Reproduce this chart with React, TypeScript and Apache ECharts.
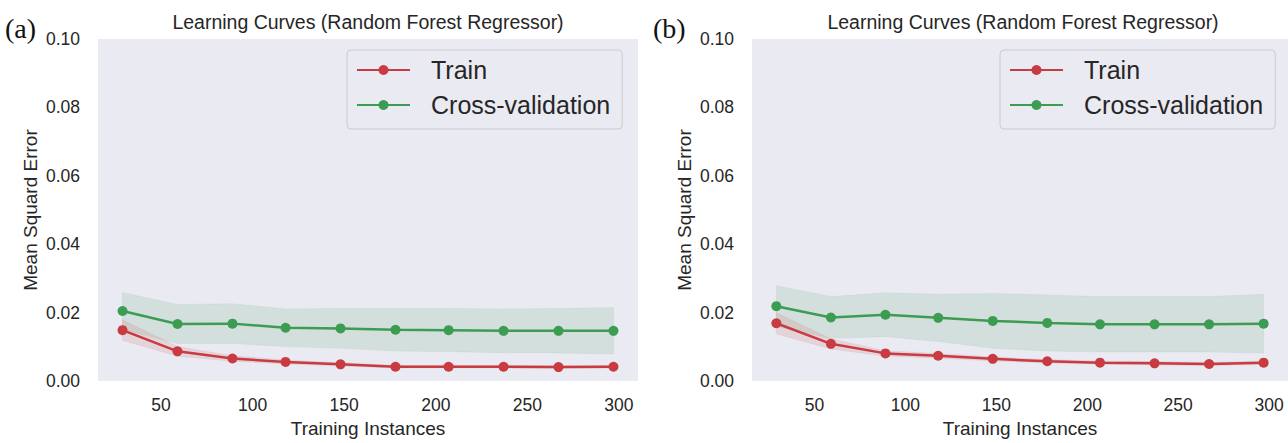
import React, { useEffect, useRef } from "react";
import * as echarts from "echarts";

// ---- data ----
const trainSizes = [29, 59, 89, 118, 148, 178, 207, 237, 267, 297];
const xTicks = [50, 100, 150, 200, 250, 300];
const yTicks = [0, 0.02, 0.04, 0.06, 0.08, 0.1];

// panel (a)
const trainMeanA = [0.0149, 0.0087, 0.0066, 0.0056, 0.0049, 0.0042, 0.0042, 0.0042, 0.0041, 0.0042];
const trainStdA = [0.003, 0.0014, 0.0008, 0.0006, 0.0005, 0.0004, 0.0004, 0.0004, 0.0004, 0.0004];
const cvMeanA = [0.0205, 0.0167, 0.0168, 0.0156, 0.0154, 0.015, 0.0149, 0.0147, 0.0147, 0.0147];
const cvStdA = [0.0054, 0.0057, 0.0058, 0.0055, 0.0058, 0.0062, 0.0063, 0.0064, 0.0065, 0.0068];

// panel (b)
const trainMeanB = [0.0169, 0.0109, 0.0081, 0.0074, 0.0065, 0.0058, 0.0054, 0.0052, 0.005, 0.0054];
const trainStdB = [0.0031, 0.0015, 0.0008, 0.0007, 0.0006, 0.0005, 0.0005, 0.0005, 0.0005, 0.0005];
const cvMeanB = [0.0219, 0.0186, 0.0194, 0.0185, 0.0176, 0.017, 0.0166, 0.0166, 0.0166, 0.0168];
const cvStdB = [0.006, 0.0061, 0.0064, 0.0069, 0.008, 0.0082, 0.0081, 0.0081, 0.0081, 0.0086];

const panelLabels = ["(a)", "(b)"];
const titleText = "Learning Curves (Random Forest Regressor)";
const xName = "Training Instances";
const yName = "Mean Squard Error";
const legendNames = ["Train", "Cross-validation"];

// ---- styles ----
const FONT = '"Liberation Sans", Arial, sans-serif';
const TXT = "#262626";
const RED = "#c83b40";
const GREEN = "#3c9c52";
const BG = "#EAEAF2";

const grids = [
  { left: 98, top: 39, width: 540, height: 349 },
  { left: 752, top: 39, width: 542, height: 349 },
];

function bandSeries(gi: number, mean: number[], std: number[], color: string) {
  const lower = mean.map((m, i) => m - std[i]);
  const upper = mean.map((m, i) => m + std[i]);
  return {
    type: "custom",
    xAxisIndex: gi,
    yAxisIndex: gi,
    silent: true,
    data: trainSizes.map((x, i) => [x, lower[i], upper[i]]),
    encode: { x: 0, y: [1, 2] },
    renderItem: (params: any, api: any) => {
      if (params.dataIndex !== 0) return null;
      const pts: number[][] = [];
      for (let i = 0; i < trainSizes.length; i++) pts.push(api.coord([trainSizes[i], upper[i]]));
      for (let i = trainSizes.length - 1; i >= 0; i--) pts.push(api.coord([trainSizes[i], lower[i]]));
      return {
        type: "polygon",
        shape: { points: pts },
        style: { fill: color, opacity: 0.13, stroke: color, lineWidth: 1, strokeOpacity: 0.5 },
      };
    },
  };
}

function lineSeries(gi: number, name: string, mean: number[], color: string) {
  return {
    type: "line",
    name,
    xAxisIndex: gi,
    yAxisIndex: gi,
    data: trainSizes.map((x, i) => [x, mean[i]]),
    symbol: "circle",
    symbolSize: 10,
    showSymbol: true,
    color,
    lineStyle: { width: 2.5, color },
    itemStyle: { color },
    emphasis: { disabled: true },
    z: 3,
  };
}

export default function App() {
  const ref = useRef<HTMLDivElement>(null);
  useEffect(() => {
    document.body.style.margin = "0";
    if (!ref.current) return;
    const chart = echarts.init(ref.current, undefined, { renderer: "svg" });
    const panels = [
      { tm: trainMeanA, ts: trainStdA, cm: cvMeanA, cs: cvStdA },
      { tm: trainMeanB, ts: trainStdB, cm: cvMeanB, cs: cvStdB },
    ];
    const series: any[] = [];
    panels.forEach((p, gi) => {
      series.push(bandSeries(gi, p.cm, p.cs, GREEN));
      series.push(bandSeries(gi, p.tm, p.ts, RED));
      series.push(lineSeries(gi, legendNames[1], p.cm, GREEN));
      series.push(lineSeries(gi, legendNames[0], p.tm, RED));
    });

    const xAxes = grids.map((_, gi) => ({
      type: "value",
      gridIndex: gi,
      min: 15.6,
      max: 310.4,
      splitNumber: 5,
      axisLine: { show: false },
      axisTick: { show: false },
      splitLine: { show: false },
      axisLabel: {
        fontSize: 17.5,
        fontFamily: FONT,
        color: TXT,
        margin: 15,
        showMinLabel: false,
        showMaxLabel: false,
        formatter: (v: number) => (xTicks.indexOf(Math.round(v)) >= 0 && Math.abs(v - Math.round(v)) < 1e-6 ? String(Math.round(v)) : ""),
      },
      name: xName,
      nameLocation: "middle",
      nameGap: 36,
      nameTextStyle: { fontSize: 19, fontFamily: FONT, color: TXT },
    }));

    const yAxes = grids.map((_, gi) => ({
      type: "value",
      gridIndex: gi,
      min: yTicks[0],
      max: yTicks[yTicks.length - 1],
      interval: yTicks[1] - yTicks[0],
      axisLine: { show: false },
      axisTick: { show: false },
      splitLine: { show: false },
      axisLabel: {
        fontSize: 17.5,
        fontFamily: FONT,
        color: TXT,
        margin: 18,
        formatter: (v: number) => v.toFixed(2),
      },
      name: yName,
      nameLocation: "middle",
      nameGap: 58,
      nameTextStyle: { fontSize: 19, fontFamily: FONT, color: TXT },
    }));

    const legends = [347, 1000].map((left) => ({
      left,
      top: 50,
      orient: "vertical",
      data: legendNames,
      itemWidth: 53,
      itemHeight: 12.5,
      itemGap: 5,
      padding: [5, 12, 9, 9],
      backgroundColor: BG,
      borderColor: "#cccccc",
      borderWidth: 1,
      borderRadius: 4,
      selectedMode: false,
      textStyle: { fontSize: 25, fontFamily: FONT, color: TXT, lineHeight: 30, padding: [0, 0, 0, 16] },
    }));

    const graphics: any[] = [];
    grids.forEach((g, gi) => {
      graphics.push({
        type: "text",
        x: g.left + g.width / 2,
        y: 22,
        style: { text: titleText, fontSize: 19.5, fontFamily: FONT, fill: TXT, align: "center", verticalAlign: "middle" },
      });
      graphics.push({
        type: "text",
        x: gi === 0 ? 5 : 653,
        y: 28,
        style: { text: panelLabels[gi], fontSize: 28, fontFamily: '"Liberation Serif", serif', fill: "#111", align: "left", verticalAlign: "middle" },
      });
    });

    chart.setOption({
      animation: false,
      grid: grids.map((g) => ({ ...g, show: true, backgroundColor: BG, borderWidth: 0, containLabel: false })),
      xAxis: xAxes,
      yAxis: yAxes,
      legend: legends,
      graphic: graphics,
      series,
    });
    return () => chart.dispose();
  }, []);
  return <div ref={ref} style={{ width: 1288, height: 443 }} />;
}
